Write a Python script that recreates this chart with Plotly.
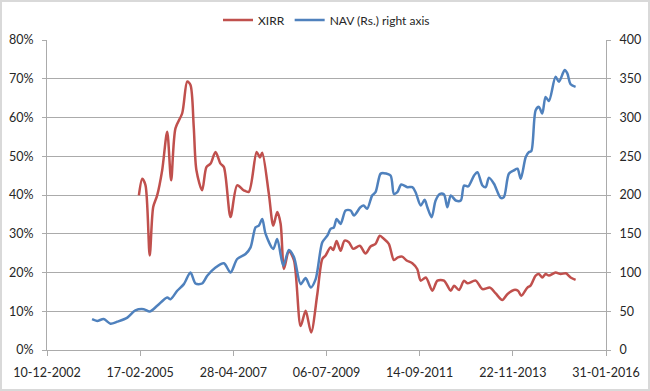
import plotly.graph_objects as go
from datetime import date, timedelta

# ---------------- data ----------------
nav_dates = [
    "2004-01-01", "2004-02-14", "2004-04-10", "2004-06-07", "2004-08-05", "2004-10-30",
    "2005-01-07", "2005-03-20", "2005-05-10", "2005-07-13", "2005-10-07", "2005-11-05",
    "2006-01-01", "2006-02-27", "2006-04-25", "2006-06-07", "2006-08-03", "2006-09-16",
    "2006-11-26", "2007-02-06", "2007-04-04", "2007-05-31", "2007-08-11", "2007-09-23",
    "2007-11-05", "2007-12-03", "2008-01-01", "2008-01-30", "2008-04-05", "2008-05-09",
    "2008-06-30", "2008-08-17", "2008-09-30", "2008-11-26", "2009-01-08", "2009-02-20",
    "2009-04-04", "2009-05-31", "2009-07-13", "2009-08-10", "2009-09-08", "2009-10-01",
    "2009-11-04", "2009-12-17", "2010-01-29", "2010-02-27", "2010-04-23", "2010-05-22",
    "2010-06-20", "2010-08-02", "2010-08-31", "2010-10-13", "2010-11-10", "2011-01-07",
    "2011-02-05", "2011-03-06", "2011-04-09", "2011-05-31", "2011-07-13", "2011-08-10",
    "2011-09-23", "2011-10-27", "2011-11-19", "2011-12-26", "2012-01-29", "2012-03-07",
    "2012-04-10", "2012-05-09", "2012-06-07", "2012-07-20", "2012-09-01", "2012-09-29",
    "2012-11-03", "2012-12-24", "2013-01-22", "2013-03-06", "2013-04-03", "2013-05-01",
    "2013-06-13", "2013-08-09", "2013-09-06", "2013-10-19", "2013-12-01", "2014-01-01",
    "2014-01-29", "2014-03-13", "2014-04-10", "2014-04-30", "2014-06-06", "2014-07-04",
    "2014-08-02", "2014-08-30", "2014-09-28", "2014-11-24", "2014-12-23", "2015-02-10",
    "2015-03-05", "2015-04-02", "2015-05-15",
]
nav_values = [
    39.7, 37.5, 40.0, 34.0, 36.6, 41.8,
    51.0, 52.6, 49.6, 57.0, 67.7, 65.6,
    76.4, 85.0, 100.0, 85.8, 85.8, 95.8,
    106.5, 112.0, 100.0, 117.4, 123.9, 132.4,
    158.3, 160.5, 169.0, 149.8, 130.4, 143.3,
    108.7, 129.0, 119.5, 85.0, 92.8, 80.6,
    91.5, 138.9, 147.6, 156.2, 158.3, 169.2,
    162.7, 180.0, 180.0, 173.5, 184.2, 186.4,
    182.1, 199.4, 203.6, 227.4, 228.2, 225.2,
    201.5, 203.6, 213.6, 210.1, 210.1, 203.6,
    186.4, 193.8, 184.2, 171.3, 192.9, 201.5,
    200.6, 184.2, 199.4, 192.9, 192.9, 212.3,
    211.0, 225.2, 229.5, 212.3, 210.1, 222.3,
    214.5, 196.4, 197.2, 227.4, 231.7, 233.9,
    221.0, 248.9, 255.4, 256.7, 309.4, 313.7,
    305.1, 326.6, 321.4, 352.5, 346.0, 361.2,
    356.9, 343.0, 339.6,
]

xirr_dates = [
    "2005-02-06", "2005-03-07", "2005-04-04", "2005-05-10", "2005-06-09", "2005-07-13",
    "2005-08-25", "2005-10-07", "2005-11-10", "2005-12-17", "2006-02-13", "2006-03-28",
    "2006-04-25", "2006-05-23", "2006-06-15", "2006-08-03", "2006-09-09", "2006-10-15",
    "2006-11-26", "2007-01-08", "2007-02-06", "2007-04-04", "2007-05-31", "2007-07-27",
    "2007-09-08", "2007-11-14", "2007-12-12", "2008-01-01", "2008-02-27", "2008-04-05",
    "2008-05-09", "2008-06-07", "2008-07-06", "2008-08-17", "2008-09-30", "2008-11-26",
    "2009-01-08", "2009-02-24", "2009-04-18", "2009-05-31", "2009-06-28", "2009-08-10",
    "2009-09-02", "2009-10-01", "2009-11-04", "2009-12-08", "2010-01-14", "2010-02-20",
    "2010-04-18", "2010-06-06", "2010-07-19", "2010-08-31", "2010-10-07", "2010-11-10",
    "2010-12-23", "2011-02-05", "2011-03-11", "2011-04-17", "2011-05-25", "2011-07-13",
    "2011-08-24", "2011-09-23", "2011-11-06", "2012-01-01", "2012-02-13", "2012-04-10",
    "2012-06-07", "2012-07-05", "2012-08-17", "2012-09-29", "2012-10-28", "2013-01-07",
    "2013-03-06", "2013-05-10", "2013-06-28", "2013-08-24", "2013-10-06", "2013-12-01",
    "2014-01-05", "2014-02-03", "2014-03-27", "2014-04-23", "2014-06-06", "2014-07-04",
    "2014-08-02", "2014-08-30", "2014-09-28", "2014-11-24", "2015-01-07", "2015-02-20",
    "2015-04-02", "2015-05-15",
]
xirr_values = [
    39.9, 44.2, 42.5, 24.4, 36.9, 39.9,
    46.4, 56.3, 43.8, 57.2, 61.1, 69.3,
    68.4, 57.6, 46.4, 41.2, 47.2, 48.1,
    51.1, 48.1, 47.2, 34.3, 42.5, 41.2,
    40.8, 51.1, 49.7, 50.9, 40.3, 32.1,
    35.6, 32.6, 20.9, 25.6, 23.1, 6.2,
    10.1, 4.5, 14.4, 23.5, 24.4, 26.5,
    25.8, 28.1, 25.6, 28.2, 27.8, 26.1,
    26.9, 24.9, 26.7, 27.4, 29.5, 28.7,
    27.4, 23.2, 23.9, 24.1, 23.1, 22.4,
    20.9, 17.9, 18.7, 15.3, 17.9, 17.9,
    15.3, 16.6, 15.5, 17.9, 17.2, 17.9,
    15.7, 16.1, 14.6, 12.9, 14.4, 15.5,
    15.3, 14.0, 16.1, 16.6, 19.2, 19.6,
    18.7, 19.6, 19.2, 20.0, 19.6, 19.8,
    18.7, 18.1,
]

x_start = date(2002, 12, 10)
x_end = date(2016, 1, 31)
tick_step_days = 800
left_ticks = [0, 0.1, 0.2, 0.3, 0.4, 0.5, 0.6, 0.7, 0.8]
right_ticks = [0, 50, 100, 150, 200, 250, 300, 350, 400]

# ---------------- build ----------------
xtickvals = []
d = x_start
while d <= x_end:
    xtickvals.append(d)
    d = d + timedelta(days=tick_step_days)
xticktext = [t.strftime("%d-%m-%Y") for t in xtickvals]
xtickvals = [t.isoformat() for t in xtickvals]

RED = "#C0504D"
BLUE = "#4F81BD"
GRID = "#ABABAB"
FONT = "Lato"

fig = go.Figure()
fig.add_trace(go.Scatter(
    x=xirr_dates, y=[v / 100 for v in xirr_values], name="XIRR",
    mode="lines", line=dict(color=RED, width=2.5, shape="spline", smoothing=0.8),
    yaxis="y",
))
fig.add_trace(go.Scatter(
    x=nav_dates, y=nav_values, name="NAV (Rs.) right axis",
    mode="lines", line=dict(color=BLUE, width=2.5, shape="spline", smoothing=0.8),
    yaxis="y2",
))

W, H = 650, 391
ML, MR, MT, MB = 47, 44, 40, 41
pw = W - ML - MR
ph = H - MT - MB

fig.update_layout(
    width=W, height=H,
    margin=dict(l=ML, r=MR, t=MT, b=MB, pad=0, autoexpand=False),
    paper_bgcolor="white", plot_bgcolor="white",
    font=dict(family=FONT, size=12.5, color="#262626"),
    showlegend=True,
    legend=dict(orientation="h", x=0.5, xanchor="center", y=(H - MB - 20) / ph,
                yanchor="middle", font=dict(size=12), itemwidth=30,
                bgcolor="rgba(0,0,0,0)", traceorder="normal"),
    xaxis=dict(
        type="date", range=[x_start.isoformat(), x_end.isoformat()],
        tickvals=xtickvals, ticktext=xticktext,
        showgrid=False, showline=True, linecolor=GRID, linewidth=1,
        ticks="outside", ticklen=5, tickcolor=GRID, ticklabelstandoff=6,
        zeroline=False,
    ),
    yaxis=dict(
        range=[0, 0.8], tickvals=left_ticks, tickformat=".0%",
        showgrid=True, gridcolor=GRID, gridwidth=1,
        showline=True, linecolor=GRID, linewidth=1,
        ticks="outside", ticklen=4, tickcolor=GRID, ticklabelstandoff=6,
        zeroline=False,
    ),
    yaxis2=dict(
        range=[0, 400], tickvals=right_ticks, overlaying="y", side="right",
        showgrid=False, showline=True, linecolor=GRID, linewidth=1,
        ticks="outside", ticklen=4, tickcolor=GRID, ticklabelstandoff=6,
        zeroline=False,
    ),
)

# outer chart border
fig.add_shape(
    type="rect", xref="paper", yref="paper",
    x0=(1 - ML) / pw, x1=(W - 1 - ML) / pw,
    y0=-(MB - 1) / ph, y1=(H - MB - 1) / ph,
    line=dict(color="#D9D9D9", width=2), fillcolor="rgba(0,0,0,0)", layer="below",
)

fig.write_html("out.html", config={"displayModeBar": False},
               post_script="document.body.style.margin='0';")
